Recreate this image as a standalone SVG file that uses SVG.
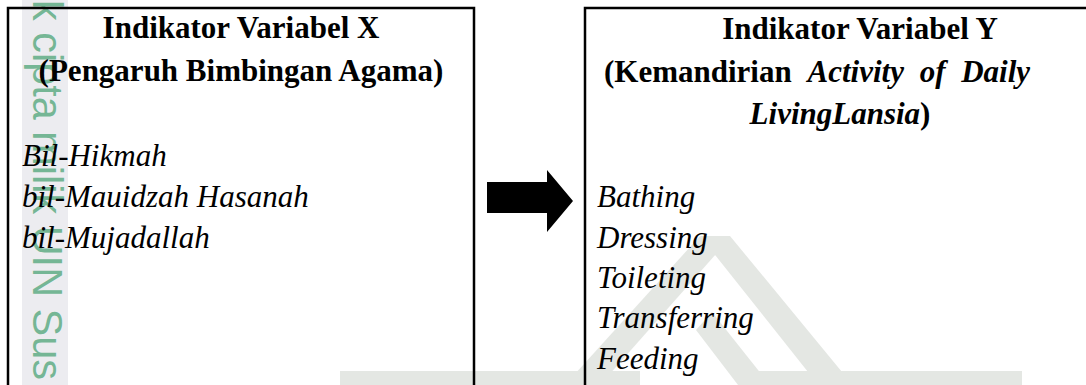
<svg xmlns="http://www.w3.org/2000/svg" width="1086" height="385" viewBox="0 0 1086 385">
  <style>
    .box { fill: none; stroke: #000; stroke-width: 2.5; }
    .title { font-family: "Liberation Serif", "Times New Roman", serif; font-size: 31px; font-weight: bold; fill: #000; }
    .item { font-family: "Liberation Serif", "Times New Roman", serif; font-size: 31px; font-style: italic; fill: #000; }
    .wm { fill: #e4e7e3; }
    .wmtext { font-family: "Liberation Sans", Arial, sans-serif; font-size: 42px; fill: #3f9e6c; fill-opacity: 0.7; }
  </style>
  <rect x="0" y="0" width="1086" height="385" fill="#fff"/>
  <!-- watermark background -->
  <g id="watermark">
    <rect x="22" y="0" width="46" height="385" fill="#ececf0"/>
    <text class="wmtext" transform="translate(33,0) rotate(90)" textLength="380" lengthAdjust="spacingAndGlyphs">k cipta milik UIN Sus</text>
    <polygon class="wm" points="700,236 730,236 842,372 808,372"/>
    <polygon class="wm" points="700,236 716,254 600,385 565,385"/>
    <polygon class="wm" points="696,330 712,312 770,385 738,385"/>
    <rect class="wm" x="340" y="371" width="300" height="14"/>
    <rect class="wm" x="757" y="371" width="265" height="14"/>
  </g>
  <g id="nodeX">
    <path class="box" d="M8,388 V8 H474 V388"/>
    <text class="title" x="241" y="38" text-anchor="middle">Indikator Variabel X</text>
    <text class="title" x="241" y="81" text-anchor="middle">(Pengaruh Bimbingan Agama)</text>
    <text class="item" x="22" y="166">Bil-Hikmah</text>
    <text class="item" x="22" y="207">bil-Mauidzah Hasanah</text>
    <text class="item" x="22" y="248">bil-Mujadallah</text>
  </g>
  <g id="nodeY">
    <path class="box" d="M585,388 V8 H1090"/>
    <text class="title" x="860" y="39" text-anchor="middle">Indikator Variabel Y</text>
    <text class="title" x="604" y="82" word-spacing="8">(Kemandirian <tspan font-style="italic">Activity of Daily</tspan></text>
    <text class="title" x="840" y="124" text-anchor="middle"><tspan font-style="italic">LivingLansia</tspan>)</text>
    <text class="item" x="597" y="207">Bathing</text>
    <text class="item" x="597" y="248">Dressing</text>
    <text class="item" x="597" y="288">Toileting</text>
    <text class="item" x="597" y="328">Transferring</text>
    <text class="item" x="597" y="369">Feeding</text>
  </g>
  <g id="connectors">
    <polygon points="487,182 547,182 547,170 573,201 547,232 547,213 487,213" fill="#000"/>
  </g>
</svg>
